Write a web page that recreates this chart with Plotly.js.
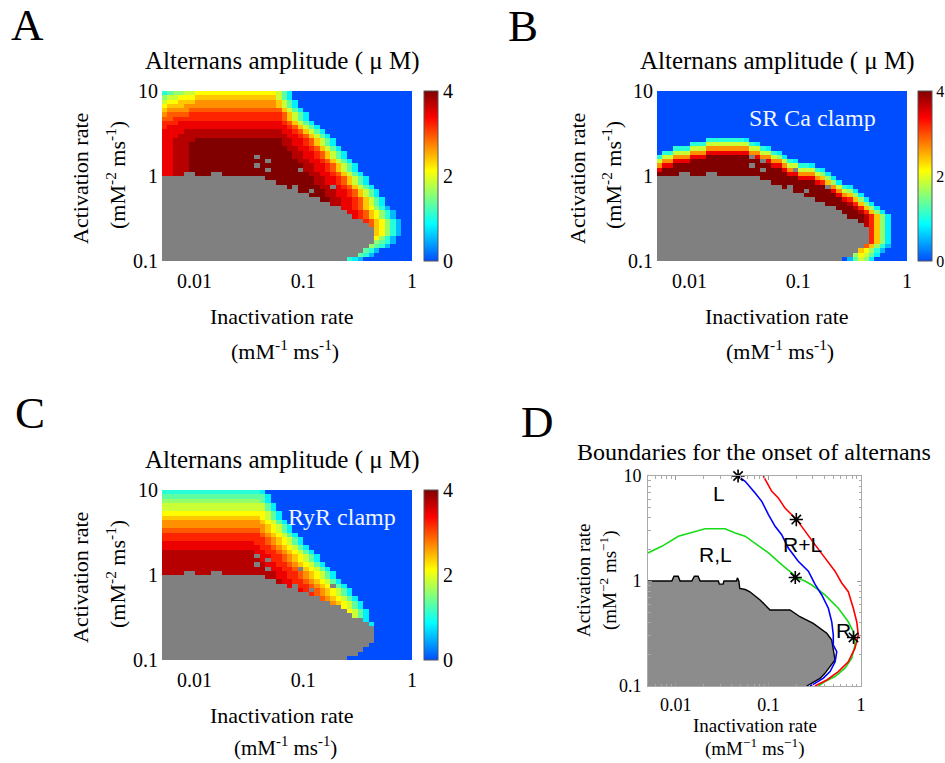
<!DOCTYPE html>
<html>
<head>
<meta charset="utf-8">
<script src="https://cdn.plot.ly/plotly-3.0.1.min.js"></script>
<style>
html, body { margin: 0; padding: 0; background: #ffffff; }
#chart { width: 945px; height: 763px; }
</style>
</head>
<body>
<div id="chart"></div>
<script>
// ================= DATA =================
// Axes of panels A-C are in log10 units of the rate parameters.
const xTickVals = [-2, -1, 0];
const xTickText = ['0.01', '0.1', '1'];
const yTickVals = [-1, 0, 1];
const yTickText = ['0.1', '1', '10'];
const cbTickVals = [0, 2, 4];

// simulation grid (log10 inactivation rate / log10 activation rate), cell centres
const gridX0 = -2.275, gridDX = 0.05;   // 46 columns
const gridY0 = -0.975, gridDY = 0.05;   // 40 rows

// Alternans amplitude levels, rows from top (10) to bottom (0.1).
// hex digit 0..f = 0..4 uM (level*4/15); '#' = no stable solution (grey). "c*n" = n copies of c.
const ampA = [
  "456677 8*15 753 0*22",
  "677888 9*15 753 0*22",
  "788999 a*15 9753 0*21",
  "8999aa a*15 9753 0*21",
  "9aaaab b*16 9753 0*20",
  "abbbbc c*16 b9753 0*19",
  "bbcccc c*16 b9753 0*19",
  "cccddd d*16 cb9753 0*18",
  "cddddd d*17 cb9753 0*17",
  "ddddee e*16 ddcb9753 0*16",
  "dddeee e*17 ddcb9753 0*15",
  "ddeeee f*16 eeddcb9753 0*14",
  "ddeeef f*16 eeddcb9753 0*14",
  "ddeeef f*17 eeddcb9753 0*13",
  "ddeeef f*18 eeddcb9753 0*12",
  "ddeeef f*11 # f*6 eeddcb9753 0*12",
  "ddeeef f*13 # f*5 eeddcb9753 0*11",
  "ddeeef f*11 # f*8 eeddcb9753 0*10",
  "ddeeef f*13 # f*5 # eeddcb9753 0*10",
  "ddee## fff ## f*16 eeddcb9753 0*9",
  "#*19 f*9 eeddcb9753 0*8",
  "#*21 f*7 eeddcb9753 0*8",
  "#*23 f # f*4 ee#dcb9753 0*7",
  "#*25 ff#ff eeddcb9753 0*6",
  "#*27 fff eeddcb9753 0*6",
  "#*29 ff eeddcb9753 0*5",
  "#*31 eeddcb9753 0*5",
  "#*33 ddcb98642 0*4",
  "#*34 ddcb98642 0*3",
  "#*35 dcb98642 0*3",
  "#*37 cb98642 0*2",
  "#*38 b98642 0*2",
  "#*39 98642 0*2",
  "#*39 98642 0*2",
  "#*39 8642 0*3",
  "#*39 6542 0*3",
  "#*38 6542 0*4",
  "#*37 542 0*6",
  "#*36 542 0*7",
  "#*34 432 0*9"
];

const ampB = [
  "0*46", "0*46", "0*46", "0*46", "0*46", "0*46", "0*46", "0*46", "0*46", "0*46", "0*46",
  "0*9 4*7 3 0*29",
  "0*6 444 7*8 43 0*27",
  "0*3 444 777 a*8 77 43 0*25",
  "0 44 777 aaa d*8 aa 77 43 0*23",
  "4 77 aaa ddd f*8 #d aa 76 3 0*22",
  "7 aa ddd f*13 #d aa 7 43 0*20",
  "a dd f*14 # fff dd a 77 443 0*17",
  "d f*18 # fff d a# 777 43 0*15",
  "ffff## fff ## f*13 dd aaa 763 0*14",
  "#*19 f*7 ddd a963 0*13",
  "#*21 f*8 dc963 0*12",
  "#*23 f # f*6 #a743 0*10",
  "#*25 ff#ffff da763 0*9",
  "#*27 f*6 da963 0*8",
  "#*29 f*5 dc963 0*7",
  "#*31 f*4 ec963 0*6",
  "#*33 fff ec963 0*5",
  "#*34 fff ec963 0*4",
  "#*35 fff ec963 0*3",
  "#*37 fec963 0*3",
  "#*38 ec963 0*3",
  "#*39 c963 0*3",
  "#*39 c963 0*3",
  "#*39 c963 0*3",
  "#*39 c963 0*3",
  "#*38 b9642 0*3",
  "#*37 98642 0*4",
  "#*36 68753 0*5",
  "#*34 025763 0*6"
];

const ampC = [
  "4*18 3 0*27",
  "5*19 3 0*26",
  "6*18 53 0*26",
  "7*19 53 0*25",
  "7*19 53 0*25",
  "8*19 753 0*24",
  "9*18 8753 0*24",
  "a*18 98753 0*23",
  "a*19 98753 0*22",
  "b*18 a98753 0*22",
  "c*18 ba98753 0*21",
  "c*19 ba98753 0*20",
  "d*17 ccba98753 0*20",
  "d*18 ccba98753 0*19",
  "e*17 dd ccba98753 0*18",
  "e*17 # dd ccba98753 0*17",
  "e*18 d# ccba98753 0*17",
  "e*17 # e dd ccba98753 0*16",
  "e*19 # dd ccb#98753 0*15",
  "eeee## eee ## e*10 dd ccba98753 0*14",
  "#*19 ee dd ccba98753 0*14",
  "#*21 e dd ccba98753 0*13",
  "#*23 d# ccba98#53 0*12",
  "#*25 d c#ba98753 0*11",
  "#*27 cba98753 0*11",
  "#*29 ba98753 0*10",
  "#*31 a98753 0*9",
  "#*33 8753 0*9",
  "#*34 8753 0*8",
  "#*35 753 0*8",
  "#*37 3 0*8",
  "#*38 3 0*7",
  "#*39 0*7",
  "#*39 0*7",
  "#*39 0*7",
  "#*39 0*7",
  "#*38 0*8",
  "#*37 0*9",
  "#*36 0*10",
  "#*34 0*12"
];

// Panel D: boundaries (inactivation rate, activation rate)
const dGrayX = [0.005, 0.005, 0.00904, 0.00955, 0.0106, 0.0111, 0.01486, 0.01585, 0.01738, 0.01828, 0.0288, 0.0295, 0.0324, 0.0331, 0.0452, 0.0462, 0.0479, 0.049, 0.0562, 0.063, 0.0813, 0.096, 0.104, 0.171, 0.219, 0.305, 0.427, 0.483, 0.502, 0.524, 0.462, 0.408, 0.361, 0.294, 0.259];
const dGrayY = [0.1, 1, 1, 1.11, 1.11, 1, 1, 1.11, 1.11, 1, 1, 0.933, 0.933, 1, 1, 1.07, 1, 0.85, 0.83, 0.79, 0.66, 0.569, 0.53, 0.53, 0.457, 0.395, 0.318, 0.274, 0.22, 0.177, 0.153, 0.132, 0.118, 0.106, 0.1];
const dBlueX = [0.0467, 0.056, 0.0718, 0.0847, 0.1, 0.118, 0.139, 0.164, 0.21, 0.27, 0.318, 0.377, 0.444, 0.483, 0.502, 0.502, 0.547, 0.525, 0.463, 0.392, 0.318, 0.282];
const dBlueY = [10, 8.91, 6.89, 5.74, 4.29, 3.32, 2.76, 2.06, 1.54, 1.24, 0.933, 0.736, 0.55, 0.409, 0.306, 0.245, 0.212, 0.17, 0.137, 0.119, 0.106, 0.1];
const dRedX = [0.0881, 0.1086, 0.128, 0.151, 0.202, 0.248, 0.318, 0.408, 0.524, 0.619, 0.729, 0.826, 0.899, 0.935, 0.861, 0.729, 0.569, 0.427, 0.318];
const dRedY = [10, 7.14, 6.17, 4.95, 3.84, 2.97, 2.22, 1.66, 1.24, 0.957, 0.791, 0.55, 0.409, 0.306, 0.229, 0.17, 0.137, 0.114, 0.1];
const dGreenX = [0.005, 0.00705, 0.01064, 0.01614, 0.0207, 0.034, 0.0437, 0.056, 0.0718, 0.1, 0.139, 0.179, 0.21, 0.248, 0.294, 0.408, 0.569, 0.729, 0.826, 0.861, 0.794, 0.671, 0.524, 0.408, 0.346];
const dGreenY = [1.85, 2.14, 2.67, 2.97, 3.15, 3.15, 2.86, 2.67, 2.3, 1.85, 1.43, 1.19, 1.06, 1.0, 0.916, 0.736, 0.55, 0.409, 0.329, 0.245, 0.184, 0.148, 0.123, 0.11, 0.1];
const dStarX = [0.047, 0.2, 0.195, 0.83];
const dStarY = [10, 3.85, 1.08, 0.29];
const dLogTickVals = [0.01, 0.1, 1];
const dLogTickValsY = [0.1, 1, 10];

// ================= RENDERING =================
const W = 945, H = 763, NCOL = 46;
const SERIF = 'Liberation Serif, Times New Roman, serif';
const SANS = 'Liberation Sans, Arial, sans-serif';
const JET = [[0, 'rgb(0,77,255)'], [0.21875, 'rgb(0,255,255)'], [0.53125, 'rgb(255,255,0)'], [0.84375, 'rgb(255,0,0)'], [1, 'rgb(128,0,0)']];

function decodeRow(s) {
  let out = '';
  for (const tok of s.trim().split(/\s+/)) {
    const m = tok.match(/^(.)\*(\d+)$/);
    out += m ? m[1].repeat(+m[2]) : tok;
  }
  return out.padEnd(NCOL, '0').slice(0, NCOL);
}
function buildGrid(rows) {
  const z = [], g = [];
  for (let r = rows.length - 1; r >= 0; r--) {
    const s = decodeRow(rows[r]);
    const zr = [], gr = [];
    for (const ch of s) {
      if (ch === '#') { zr.push(null); gr.push(1); }
      else { zr.push(parseInt(ch, 16) * 4 / 15); gr.push(null); }
    }
    z.push(zr); g.push(gr);
  }
  return { z, g };
}
const px = v => v / W;
const py = v => 1 - v / H;

function heatTraces(rows, xa, ya, cbLeft, cbMid, cbFont, cbStandoff) {
  const grid = buildGrid(rows);
  return [
    { type: 'heatmap', z: grid.z, x0: gridX0, dx: gridDX, y0: gridY0, dy: gridDY,
      xaxis: xa, yaxis: ya, zmin: 0, zmax: 4, colorscale: JET, hoverinfo: 'skip',
      colorbar: { x: px(cbLeft), xanchor: 'left', y: py(cbMid), yanchor: 'middle',
        len: 170, lenmode: 'pixels', thickness: 14, thicknessmode: 'pixels',
        xpad: 0, ypad: 0, tickvals: cbTickVals, ticks: '', ticklabelstandoff: cbStandoff,
        tickfont: { family: SERIF, size: cbFont, color: '#000' },
        outlinewidth: 1, outlinecolor: '#555' } },
    { type: 'heatmap', z: grid.g, x0: gridX0, dx: gridDX, y0: gridY0, dy: gridDY,
      xaxis: xa, yaxis: ya, zmin: 0, zmax: 1, showscale: false, hoverinfo: 'skip',
      colorscale: [[0, '#808080'], [1, '#808080']] }
  ];
}

const traces = [
  ...heatTraces(ampA, 'x', 'y', 424, 176, 20, 3),
  ...heatTraces(ampB, 'x2', 'y2', 918, 176, 16, 0),
  ...heatTraces(ampC, 'x3', 'y3', 424, 575, 20, 3),
  { type: 'scatter', mode: 'lines', x: dGrayX, y: dGrayY, xaxis: 'x4', yaxis: 'y4',
    fill: 'toself', fillcolor: '#8c8c8c', line: { width: 0, color: 'rgba(0,0,0,0)' }, hoverinfo: 'skip' },
  { type: 'scatter', mode: 'lines', x: dGrayX.slice(1), y: dGrayY.slice(1), xaxis: 'x4', yaxis: 'y4',
    line: { color: '#000', width: 1.4 }, hoverinfo: 'skip' },
  { type: 'scatter', mode: 'lines', x: dGreenX, y: dGreenY, xaxis: 'x4', yaxis: 'y4',
    line: { color: '#18dc18', width: 1.6 } },
  { type: 'scatter', mode: 'lines', x: dBlueX, y: dBlueY, xaxis: 'x4', yaxis: 'y4',
    line: { color: '#0000ff', width: 1.6 } },
  { type: 'scatter', mode: 'lines', x: dRedX, y: dRedY, xaxis: 'x4', yaxis: 'y4',
    line: { color: '#ff0000', width: 1.6 } },
  { type: 'scatter', mode: 'markers', x: dStarX, y: dStarY, xaxis: 'x4', yaxis: 'y4', cliponaxis: false,
    marker: { symbol: 'asterisk-open', size: 11, color: '#000', line: { color: '#000', width: 1.6 } } }
];

function heatX(domainPx, anchor) {
  return { domain: [px(domainPx[0]), px(domainPx[1])], anchor, range: [-2.3, 0],
    tickmode: 'array', tickvals: xTickVals, ticktext: xTickText, ticks: '', ticklabelstandoff: 6,
    showgrid: false, zeroline: false, showline: false, fixedrange: true,
    tickfont: { family: SERIF, size: 20, color: '#000' } };
}
function heatY(topPx, botPx, anchor) {
  return { domain: [py(botPx), py(topPx)], anchor, range: [-1, 1],
    tickmode: 'array', tickvals: yTickVals, ticktext: yTickText, ticks: '', ticklabelstandoff: 3,
    showgrid: false, zeroline: false, showline: false, fixedrange: true,
    tickfont: { family: SERIF, size: 20, color: '#000' } };
}
const dAxisCommon = {
  type: 'log', ticks: 'inside', ticklen: 4, tickcolor: '#999', tickwidth: 1,
  showline: true, linecolor: '#aaa', linewidth: 1, mirror: 'ticks',
  showgrid: false, zeroline: false, fixedrange: true, exponentformat: 'none',
  minor: { ticks: 'inside', ticklen: 2.5, tickcolor: '#aaa', dtick: 'D1', showgrid: false },
  tickfont: { family: SERIF, size: 18, color: '#000' }, ticklabelstandoff: 2
};

function ann(text, x, y, size, extra) {
  return Object.assign({ text, x: px(x), y: py(y), xref: 'paper', yref: 'paper', showarrow: false,
    xanchor: 'center', yanchor: 'middle', font: { family: SERIF, size, color: '#000' } }, extra || {});
}
const unitsY = '(mM<sup>-2</sup> ms<sup>-1</sup>)';
const unitsX = '(mM<sup>-1</sup> ms<sup>-1</sup>)';
const unitsYD = '(mM<sup>\u22122</sup> ms<sup>\u22121</sup>)';
const unitsXD = '(mM<sup>\u22121</sup> ms<sup>\u22121</sup>)';
const ampTitle = 'Alternans amplitude ( \u03bc M)';

const annotations = [
  ann('A', 27, 25, 45), ann('B', 523, 26, 45), ann('C', 30, 413, 45), ann('D', 537, 422, 45),
  ann(ampTitle, 282, 61, 25), ann(ampTitle, 777, 61, 25), ann(ampTitle, 282, 460, 25),
  ann('Boundaries for the onset of alternans', 754, 452, 24),
  // A axis titles
  ann('Inactivation rate', 282, 316, 22), ann(unitsX, 285, 350, 22),
  ann('Activation rate', 80, 179, 22, { textangle: -90 }), ann(unitsY, 116, 175, 22, { textangle: -90 }),
  // B
  ann('Inactivation rate', 777, 316, 22), ann(unitsX, 780, 350, 22),
  ann('Activation rate', 577, 179, 22, { textangle: -90 }), ann(unitsY, 612, 175, 22, { textangle: -90 }),
  // C
  ann('Inactivation rate', 282, 715, 22), ann(unitsX, 285, 746, 21),
  ann('Activation rate', 80, 578, 22, { textangle: -90 }), ann(unitsY, 116, 574, 22, { textangle: -90 }),
  // D
  ann('Inactivation rate', 755, 725, 19), ann(unitsXD, 755, 747, 19),
  ann('Activation rate', 583, 581, 19, { textangle: -90 }), ann(unitsYD, 608, 580, 19, { textangle: -90 }),
  // in-plot labels
  ann('SR Ca clamp', 812, 118, 24, { font: { family: SERIF, size: 24, color: '#f2f6ff' } }),
  ann('RyR clamp', 342, 517, 24, { font: { family: SERIF, size: 24, color: '#f2f6ff' } }),
  ann('L', 719, 493, 21, { font: { family: SANS, size: 21, color: '#000' } }),
  ann('R,L', 715, 554, 21, { font: { family: SANS, size: 21, color: '#000' } }),
  ann('R+L', 802, 544, 21, { font: { family: SANS, size: 21, color: '#000' } }),
  ann('R', 843, 630, 21, { font: { family: SANS, size: 21, color: '#000' } })
];

const layout = {
  width: W, height: H, margin: { l: 0, r: 0, t: 0, b: 0 },
  paper_bgcolor: '#ffffff', plot_bgcolor: '#ffffff', showlegend: false,
  font: { family: SERIF, color: '#000' },
  xaxis: heatX([162, 412], 'y'), yaxis: heatY(91, 261, 'x'),
  xaxis2: heatX([657, 907], 'y2'), yaxis2: heatY(91, 261, 'x2'),
  xaxis3: heatX([162, 412], 'y3'), yaxis3: heatY(490, 660, 'x3'),
  xaxis4: Object.assign({}, dAxisCommon, { domain: [px(648), px(861)], anchor: 'y4',
    range: [Math.log10(0.005), 0], tickmode: 'array', tickvals: dLogTickVals, ticktext: ['0.01', '0.1', '1'] }),
  yaxis4: Object.assign({}, dAxisCommon, { domain: [py(686), py(476)], anchor: 'x4',
    range: [-1, 1], tickmode: 'array', tickvals: dLogTickValsY, ticktext: ['0.1', '1', '10'] }),
  annotations
};

Plotly.newPlot('chart', traces, layout, { staticPlot: true, displayModeBar: false });
</script>
</body>
</html>
